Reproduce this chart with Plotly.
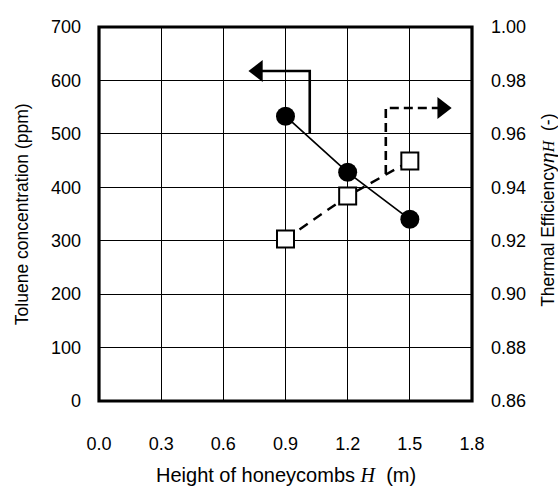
import plotly.graph_objects as go

# ---- data ----
heights = [0.9, 1.2, 1.5]                 # Height of honeycombs H (m)
toluene_ppm = [533, 428, 340]             # Toluene concentration (ppm), left axis
thermal_eff = [0.9206, 0.9367, 0.9498]    # Thermal efficiency eta_H (-), right axis

x_ticks = [0.0, 0.3, 0.6, 0.9, 1.2, 1.5, 1.8]
y_ticks = [0, 100, 200, 300, 400, 500, 600, 700]
y2_ticks = [0.86, 0.88, 0.90, 0.92, 0.94, 0.96, 0.98, 1.00]

# indicator arrows (which axis each series belongs to)
left_arrow_x = [1.017, 1.017, 0.78]
left_arrow_y = [500, 617.6, 617.6]
left_head = (0.767, 617.6)
right_arrow_x = [1.384, 1.384, 1.67]
right_arrow_y = [0.9450, 0.9697, 0.9697]
right_head = (1.656, 0.9697)

FONT = "Liberation Sans, Arial, sans-serif"
SERIF = "Liberation Serif, Times New Roman, serif"

fig = go.Figure()

# left-axis arrow (solid)
fig.add_trace(go.Scatter(x=left_arrow_x, y=left_arrow_y, mode="lines",
                         line=dict(color="black", width=2.6), yaxis="y",
                         showlegend=False, hoverinfo="skip"))
fig.add_trace(go.Scatter(x=[left_head[0]], y=[left_head[1]], mode="markers",
                         marker=dict(symbol="triangle-left", size=19, color="black",
                                     line=dict(width=0)),
                         yaxis="y", showlegend=False, hoverinfo="skip"))

# right-axis arrow (dashed)
fig.add_trace(go.Scatter(x=right_arrow_x, y=right_arrow_y, mode="lines",
                         line=dict(color="black", width=2.6, dash="9px,5px"), yaxis="y2",
                         showlegend=False, hoverinfo="skip"))
fig.add_trace(go.Scatter(x=[right_head[0]], y=[right_head[1]], mode="markers",
                         marker=dict(symbol="triangle-right", size=19, color="black",
                                     line=dict(width=0)),
                         yaxis="y2", showlegend=False, hoverinfo="skip"))

# thermal efficiency (squares, dashed)
fig.add_trace(go.Scatter(x=heights, y=thermal_eff, mode="lines+markers", yaxis="y2",
                         line=dict(color="black", width=2.4, dash="10px,7px"),
                         marker=dict(symbol="square", size=17, color="white",
                                     line=dict(color="black", width=2)),
                         showlegend=False))

# toluene concentration (filled circles, solid)
fig.add_trace(go.Scatter(x=heights, y=toluene_ppm, mode="lines+markers", yaxis="y",
                         line=dict(color="black", width=1.7),
                         marker=dict(symbol="circle", size=19, color="black"),
                         showlegend=False))

axis_common = dict(showline=False, zeroline=False, ticks="",
                   tickfont=dict(family=FONT, size=18, color="black"))

fig.update_layout(
    width=558, height=495, autosize=False,
    margin=dict(l=99, r=86, t=27, b=94),
    paper_bgcolor="white", plot_bgcolor="white",
    font=dict(family=FONT, size=18, color="black"),
    xaxis=dict(range=[0, 1.8], tickvals=x_ticks, ticktext=[f"{v:.1f}" for v in x_ticks],
               showgrid=True, gridcolor="black", gridwidth=1,
               ticklabelstandoff=30, **axis_common),
    yaxis=dict(range=[0, 700], tickvals=y_ticks, ticktext=[str(v) for v in y_ticks],
               showgrid=True, gridcolor="black", gridwidth=1,
               ticklabelstandoff=17, **axis_common),
    yaxis2=dict(range=[0.86, 1.00], tickvals=y2_ticks, ticktext=[f"{v:.2f}" for v in y2_ticks],
                overlaying="y", side="right", showgrid=False,
                ticklabelstandoff=18, **axis_common),
)

# thick frame
fig.add_shape(type="rect", xref="x domain", yref="y domain", x0=0, x1=1, y0=0, y1=1,
              line=dict(color="black", width=3.2), layer="above")

# axis titles
fig.add_annotation(xref="paper", yref="paper", x=0.5, y=-0.198, showarrow=False,
                   xanchor="center", yanchor="middle",
                   text=f"Height of honeycombs <span style=\"font-family:{SERIF}\"><i>H</i></span>  (m)",
                   font=dict(family=FONT, size=20, color="black"))
fig.add_annotation(xref="paper", yref="paper", x=-0.206, y=0.5, showarrow=False,
                   xanchor="center", yanchor="middle", textangle=-90,
                   text="Toluene concentration (ppm)",
                   font=dict(family=FONT, size=17.5, color="black"))
fig.add_annotation(xref="paper", yref="paper", x=1.2, y=0.51, showarrow=False,
                   xanchor="center", yanchor="middle", textangle=-90,
                   text=(f"Thermal Efficiency"
                         f"<i><span style=\"font-family:{SERIF};font-size:22px\">η</span></i>"
                         f"<i><span style=\"font-family:{SERIF};font-size:16px\">H</span></i>"
                         f"  (-)"),
                   font=dict(family=FONT, size=17.5, color="black"))

fig.write_html("out.html", config={"displayModeBar": False},
               post_script="document.body.style.margin='0';")
